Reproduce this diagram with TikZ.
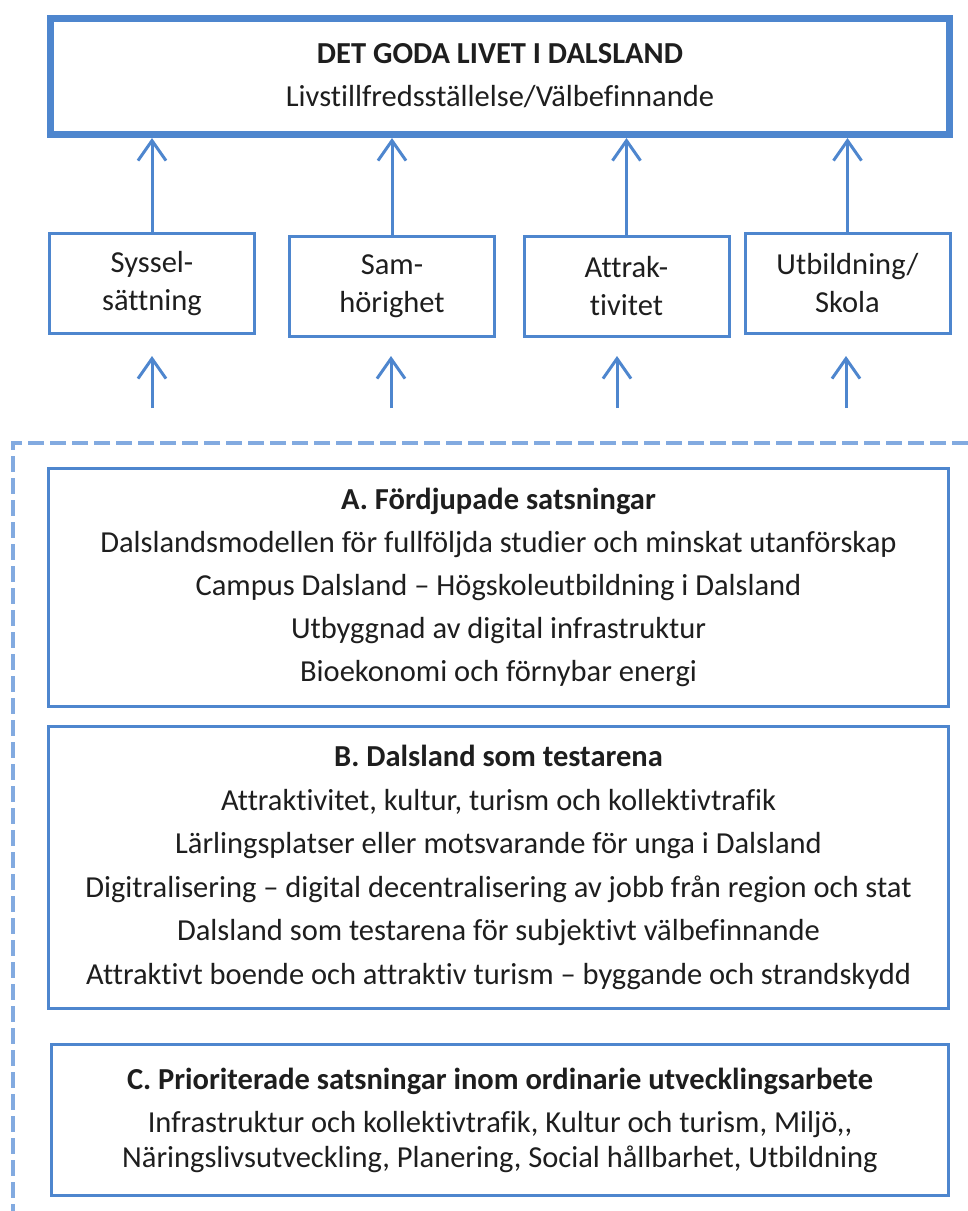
\documentclass[tikz,border=0pt]{standalone}
\usepackage{fontspec}
\setmainfont[Ligatures={NoCommon}]{Carlito}
\usetikzlibrary{arrows.meta}
\definecolor{lblue}{RGB}{78,134,206}
\definecolor{dblue}{RGB}{130,170,224}
\definecolor{txt}{RGB}{30,30,30}
\begin{document}
\begin{tikzpicture}[x=1pt,y=-1pt,
  box/.style={draw=lblue, line width=3pt, fill=white, align=center, inner sep=0pt, text=txt},
  bigfont/.style={font=\fontsize{30.5}{43}\selectfont},
  smallbox/.style={box, minimum width=205pt, minimum height=100pt, font=\fontsize{30.5}{38}\selectfont},
  arr/.style={draw=lblue, line width=3pt, -{Straight Barb[length=20pt,width=28pt]}}
]
\useasboundingbox (0,0) rectangle (968,1211);

% top box
\node[box, line width=7pt, minimum width=899pt, minimum height=116pt, bigfont] (top) at (500,76.5)
  {\raisebox{4pt}{\begin{tabular}{@{}c@{}}\textbf{DET GODA LIVET I DALSLAND}\\Livstillfredsställelse/Välbefinnande\end{tabular}}};

% four factor boxes
\node[smallbox] (b1) at (152,283.5) {Syssel-\\sättning};
\node[smallbox] (b2) at (392,286) {Sam-\\hörighet};
\node[smallbox] (b3) at (626.5,286) {Attrak-\\tivitet};
\node[smallbox] (b4) at (847.5,283.5) {Utbildning/\\Skola};

% arrows to top box
\foreach \b in {b1,b2,b3,b4}
  \draw[arr] (\b.north) -- (\b.north |- top.south);

% lower arrows
\coordinate (s1) at (152,408); \coordinate (e1) at (152,356);
\coordinate (s2) at (391,408); \coordinate (e2) at (391,356);
\coordinate (s3) at (617,408); \coordinate (e3) at (617,356);
\coordinate (s4) at (846,408); \coordinate (e4) at (846,356);
\foreach \i in {1,2,3,4}
  \draw[arr] (s\i) -- (e\i);

% dashed frame
\coordinate (dr) at (968,443);
\coordinate (dc) at (13,443);
\coordinate (db) at (13,1211);
\draw[dblue, line width=4pt, dash pattern=on 16pt off 6pt] (dr) -- (dc) -- (db);

% box A
\node[box, minimum width=900pt, minimum height=238pt, bigfont] (A) at (498.5,587.5)
  {\textbf{A. Fördjupade satsningar}\\
   Dalslandsmodellen för fullföljda studier och minskat utanförskap\\
   Campus Dalsland – Högskoleutbildning i Dalsland\\
   Utbyggnad av digital infrastruktur\\
   Bioekonomi och förnybar energi};

% box B
\node[box, minimum width=900pt, minimum height=282pt, font=\fontsize{30.5}{43.5}\selectfont] (B) at (498.5,867.5)
  {\textbf{B. Dalsland som testarena}\\
   Attraktivitet, kultur, turism och kollektivtrafik\\
   Lärlingsplatser eller motsvarande för unga i Dalsland\\
   Digitralisering – digital decentralisering av jobb från region och stat\\
   Dalsland som testarena för subjektivt välbefinnande\\
   Attraktivt boende och attraktiv turism – byggande och strandskydd};

% box C
\node[box, minimum width=897pt, minimum height=151pt, font=\fontsize{30.5}{35}\selectfont] (C) at (500,1120)
  {\textbf{C. Prioriterade satsningar inom ordinarie utvecklingsarbete}\\[8pt]
   Infrastruktur och kollektivtrafik, Kultur och turism, Miljö,{},\\
   Näringslivsutveckling, Planering, Social hållbarhet, Utbildning};
\end{tikzpicture}
\end{document}
